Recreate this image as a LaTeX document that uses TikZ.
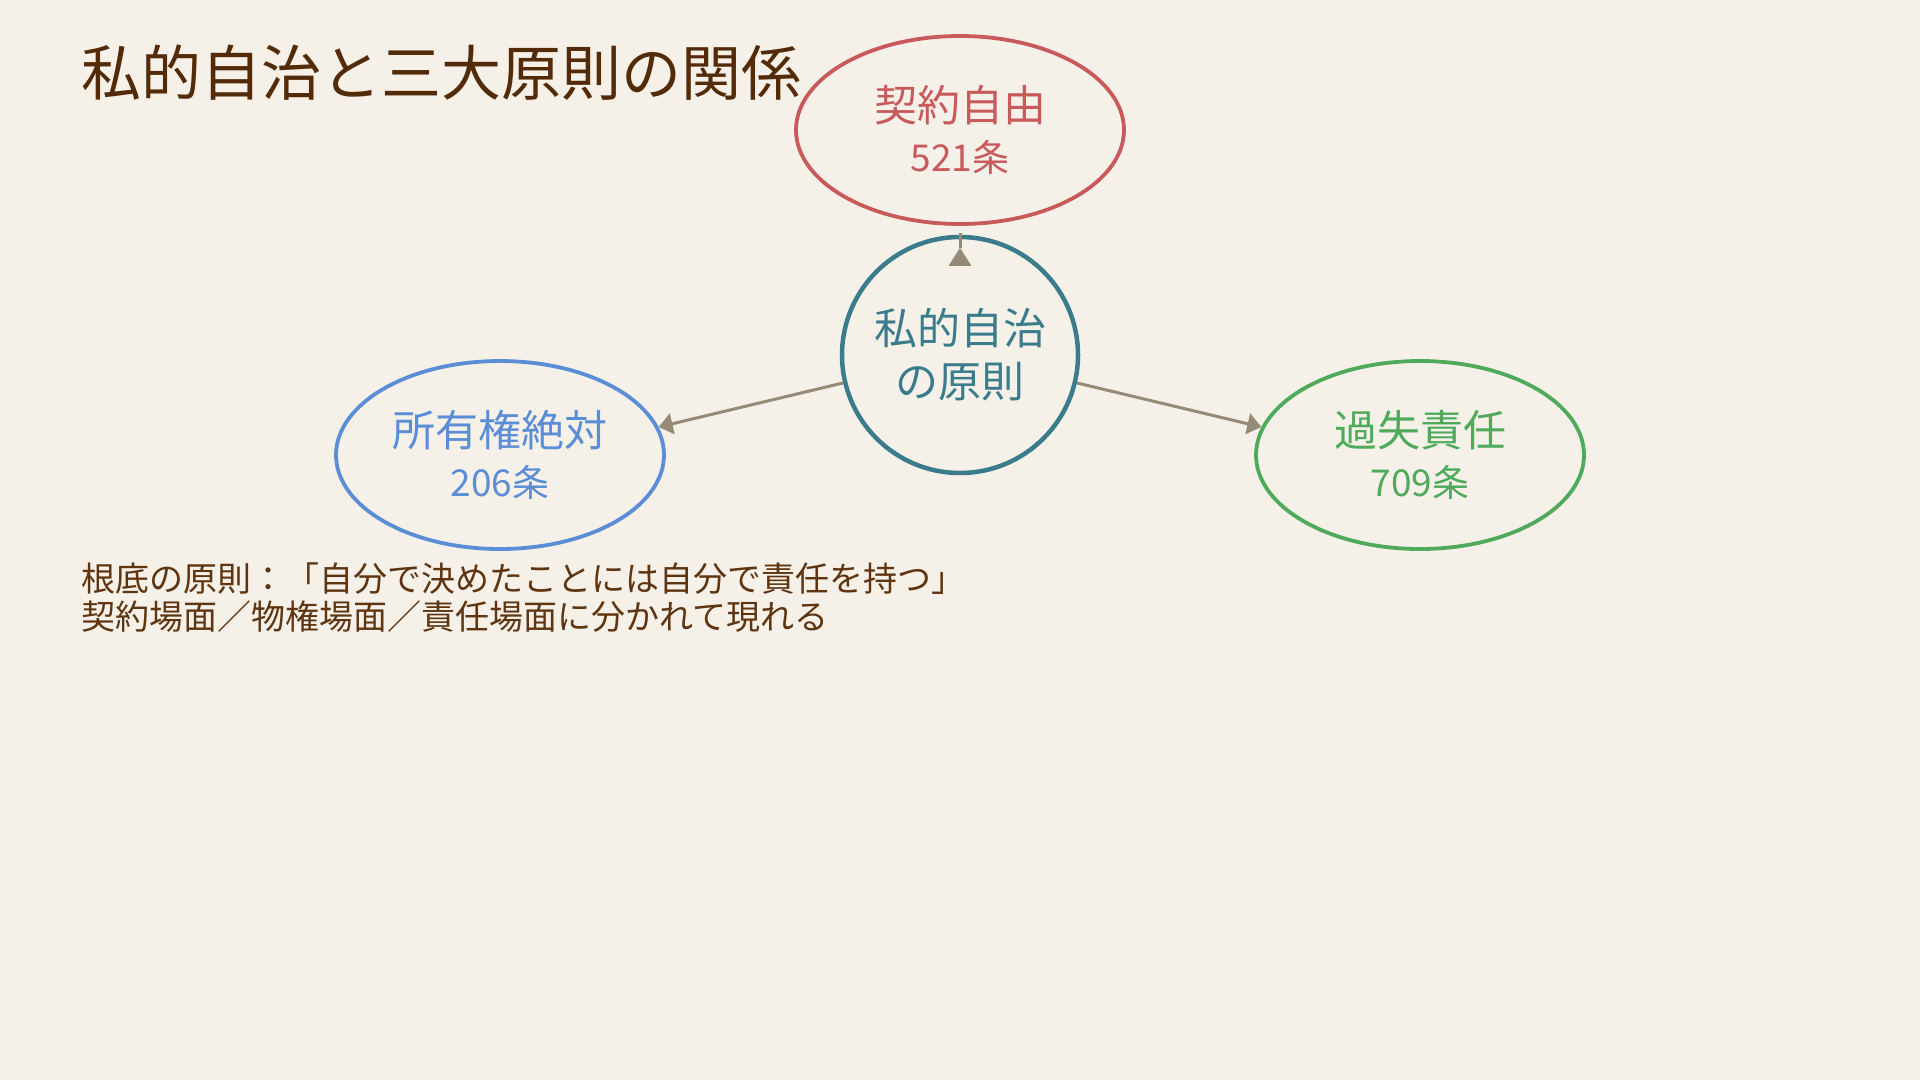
\documentclass[tikz,border=0pt]{standalone}
\usepackage{fontspec}
\setmainfont{Noto Sans CJK JP}
\usetikzlibrary{shapes.geometric,arrows.meta}

\definecolor{paper}{HTML}{F5F1E9}
\definecolor{titlebrown}{HTML}{532B08}
\definecolor{textbrown}{HTML}{5E3510}
\definecolor{keiyaku}{HTML}{C85A5C}
\definecolor{core}{HTML}{3A7B8C}
\definecolor{shoyu}{HTML}{5B8ED6}
\definecolor{kashitsu}{HTML}{4FAA5C}
\definecolor{linkcol}{HTML}{968B76}

\tikzset{
  principle/.style={ellipse, draw=#1, line width=3.8pt, text=#1,
    minimum width=328pt, minimum height=188pt, inner sep=0pt, align=center,
    font=\fontsize{43}{50}\selectfont},
  link/.style={linkcol, line width=3pt},
  linktip/.style={-{Triangle[length=14pt,width=21pt]}}
}

\begin{document}
\begin{tikzpicture}[x=1pt,y=-1pt]
  \fill[paper] (0,0) rectangle (1920,1080);
  \useasboundingbox (0,0) rectangle (1920,1080);

  \node[anchor=base west, inner sep=0pt, text=titlebrown,
    font=\fontsize{60}{60}\selectfont] (title) at (81,95) {私的自治と三大原則の関係};

  \node[circle, draw=core, line width=4.5pt, text=core, minimum size=236pt,
    inner sep=0pt, align=center, font=\fontsize{43}{53}\selectfont]
    (jichi) at (960,355) {私的自治\\の原則};
  \node[principle=keiyaku] (keiyakujiyu) at (960,130) {契約自由\\{\fontsize{37}{50}\selectfont 521条}};
  \node[principle=shoyu] (shoyuken) at (500,455) {所有権絶対\\{\fontsize{37}{50}\selectfont 206条}};
  \node[principle=kashitsu] (kashitsusekinin) at (1420,455) {過失責任\\{\fontsize{37}{50}\selectfont 709条}};

  % connectors
  \coordinate (topbase) at ([yshift=-31pt]jichi.north);
  \coordinate (toptip) at ([yshift=-13pt]jichi.north);
  \draw[link] ([yshift=2pt]jichi.north) -- (toptip);
  \draw[link, -{Triangle[length=18pt,width=22pt]}] (topbase) -- (toptip);
  \draw[link, linktip] (jichi) -- (shoyuken.10);
  \draw[link, linktip] (jichi) -- (kashitsusekinin.170);

  \node[anchor=north west, inner sep=0pt, align=left, text=textbrown,
    font=\fontsize{34}{38}\selectfont] (note) at (81,563)
    {根底の原則：「自分で決めたことには自分で責任を持つ」\\契約場面／物権場面／責任場面に分かれて現れる};
\end{tikzpicture}
\end{document}
